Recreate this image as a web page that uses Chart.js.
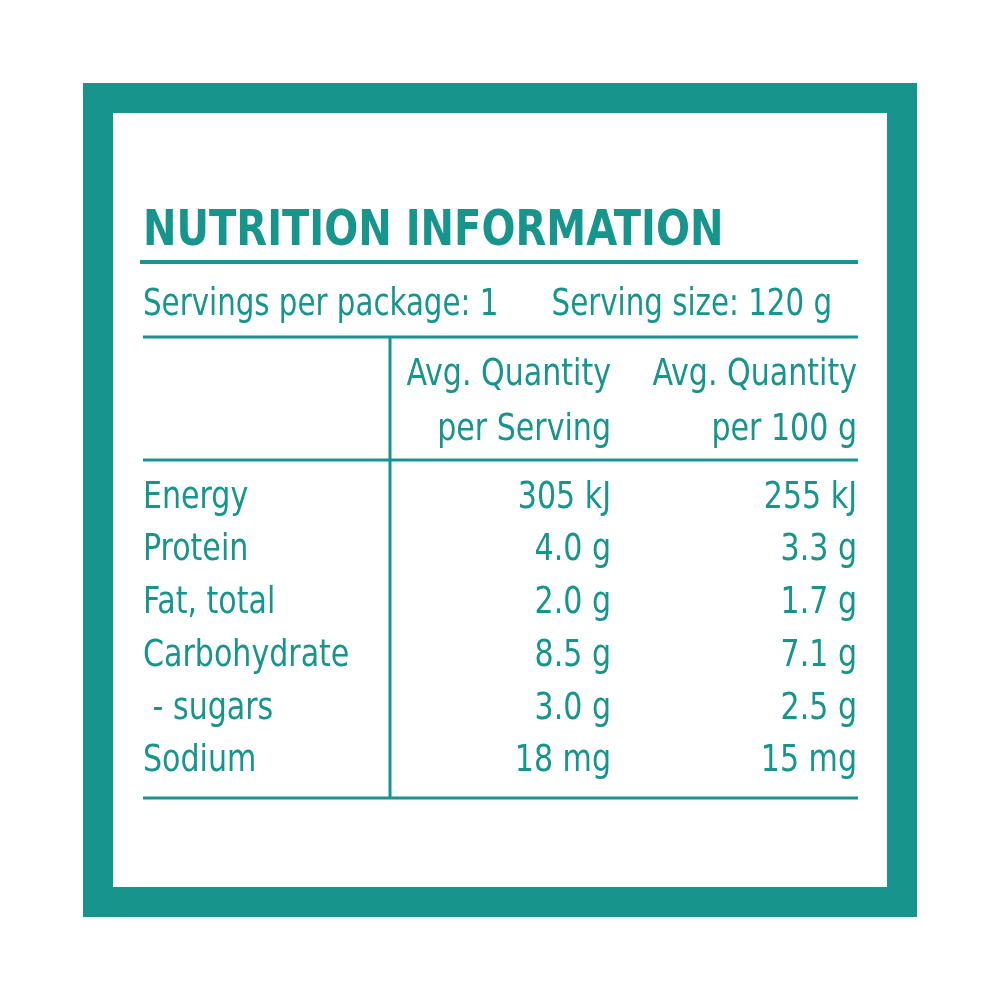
<!DOCTYPE html>
<html><head><meta charset="utf-8">
<script src="https://cdn.jsdelivr.net/npm/chart.js@4/dist/chart.umd.min.js"></script>
<style>html,body{margin:0;padding:0;background:#fff}#w{width:1000px;height:1000px}</style>
</head><body><div id="w"><canvas id="c"></canvas></div>
<script>
const title = "NUTRITION INFORMATION";
const servingsText = "Servings per package: 1";
const sizeText = "Serving size: 120 g";
const colHeaders = [["Avg. Quantity","per Serving"],["Avg. Quantity","per 100 g"]];
const nutrients = ["Energy","Protein","Fat, total","Carbohydrate"," - sugars","Sodium"];
const perServing = ["305 kJ","4.0 g","2.0 g","8.5 g","3.0 g","18 mg"];
const per100g = ["255 kJ","3.3 g","1.7 g","7.1 g","2.5 g","15 mg"];
const rowY = [508,560,613,666,719,771];
const TEAL = "#17958d";
const FONT = "'Liberation Sans Narrow','DejaVu Sans Condensed','Roboto',sans-serif";
const SX = 0.88;

const tablePlugin = {
  id:'table',
  afterDraw(chart){
    const ctx = chart.ctx, xs = chart.scales.x, ys = chart.scales.y;
    const X = v=>xs.getPixelForValue(v), Y = v=>ys.getPixelForValue(v);
    ctx.save();
    ctx.fillStyle = TEAL;
    ctx.fillRect(X(83),Y(83),X(917)-X(83),Y(917)-Y(83));
    ctx.fillStyle = "#fff";
    ctx.fillRect(X(113),Y(113),X(887)-X(113),Y(887)-Y(113));
    ctx.strokeStyle = TEAL; ctx.fillStyle = TEAL;
    const line=(x1,y1,x2,y2,w)=>{ctx.lineWidth=w;ctx.beginPath();ctx.moveTo(X(x1),Y(y1));ctx.lineTo(X(x2),Y(y2));ctx.stroke();};
    const text=(s,x,y,align,sx)=>{ctx.save();ctx.translate(X(x),Y(y));ctx.scale(sx||SX,1);ctx.textAlign=align;ctx.fillText(s,0,0);ctx.restore();};
    line(140,262,858,262,4);
    line(143,337,858,337,3);
    line(143,460,858,460,3);
    line(143,798,858,798,3);
    line(390,337,390,798,3);
    ctx.textBaseline = "alphabetic";
    ctx.font = "bold 50px " + FONT;
    text(title,143,245,"left",0.89);
    ctx.font = "37px " + FONT;
    text(servingsText,143,315,"left");
    text(sizeText,832,315,"right");
    ctx.font = "38px " + FONT;
    [611,857].forEach((cx,i)=>{
      text(colHeaders[i][0],cx,385,"right");
      text(colHeaders[i][1],cx,440,"right");
    });
    nutrients.forEach((n,i)=>{
      text(n,143,rowY[i],"left");
      text(perServing[i],611,rowY[i],"right");
      text(per100g[i],857,rowY[i],"right");
    });
    ctx.restore();
  }
};

new Chart(document.getElementById('c'),{
  type:'scatter',
  data:{datasets:[{data:[]}]},
  options:{
    responsive:true, maintainAspectRatio:false, animation:false,
    layout:{padding:0},
    plugins:{legend:{display:false},tooltip:{enabled:false}},
    scales:{
      x:{type:'linear',min:0,max:1000,display:false},
      y:{type:'linear',min:0,max:1000,reverse:true,display:false}
    }
  },
  plugins:[tablePlugin]
});
</script></body></html>
